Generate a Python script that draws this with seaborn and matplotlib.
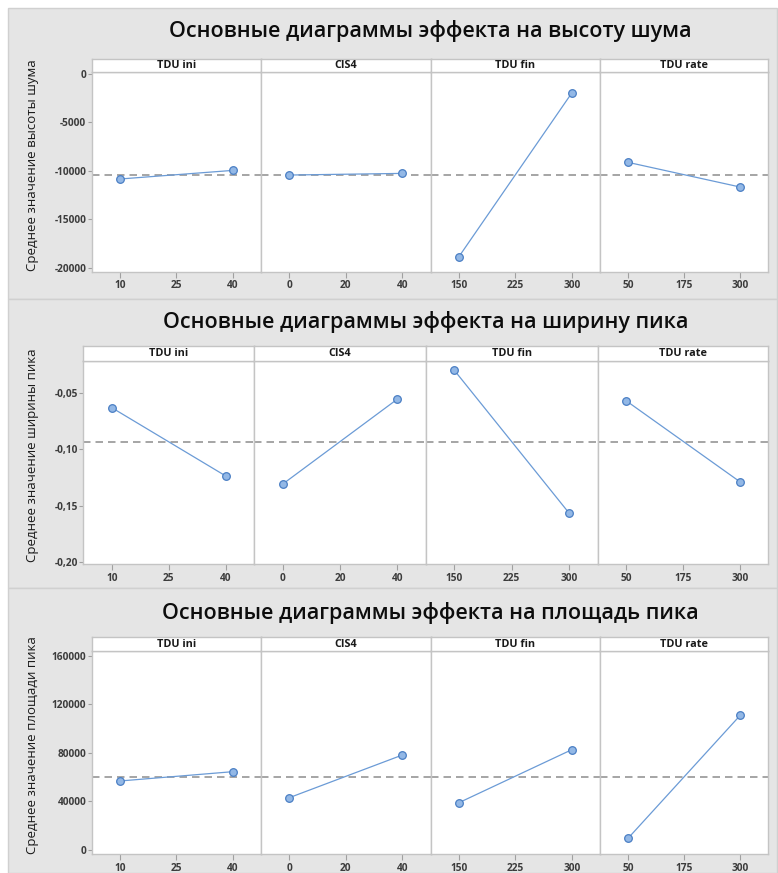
import matplotlib
matplotlib.use("Agg")
import matplotlib.pyplot as plt
import pandas as pd
import seaborn as sns
from matplotlib.patches import Rectangle

# Factors and their two levels
factors = ["TDU ini", "CIS4", "TDU fin", "TDU rate"]
levels = [[10, 40], [0, 40], [150, 300], [50, 300]]
x_ticks = [[10, 25, 40], [0, 20, 40], [150, 225, 300], [50, 175, 300]]

# Response 1: noise height
noise_title = "Основные диаграммы эффекта на высоту шума"
noise_ylabel = "Среднее значение высоты шума"
noise_means = [[-10840, -9950], [-10430, -10260], [-18860, -1960], [-9120, -11670]]
noise_grand = -10390
noise_yticks = [0, -5000, -10000, -15000, -20000]
noise_yticklabels = ["0", "-5000", "-10000", "-15000", "-20000"]

# Response 2: peak width
width_title = "Основные диаграммы эффекта на ширину пика"
width_ylabel = "Среднее значение ширины пика"
width_means = [[-0.0628, -0.1237], [-0.1308, -0.0553], [-0.0295, -0.1567], [-0.0566, -0.1288]]
width_grand = -0.0930
width_yticks = [-0.05, -0.10, -0.15, -0.20]
width_yticklabels = ["-0,05", "-0,10", "-0,15", "-0,20"]

# Response 3: peak area
area_title = "Основные диаграммы эффекта на площадь пика"
area_ylabel = "Среднее значение площади пика"
area_means = [[56900, 64580], [43130, 78350], [39010, 82720], [9650, 111090]]
area_grand = 60600
area_yticks = [0, 40000, 80000, 120000, 160000]
area_yticklabels = ["0", "40000", "80000", "120000", "160000"]

sns.set_theme(style="white")
plt.rcParams["font.family"] = ["Open Sans", "DejaVu Sans"]

W, H = 778, 873
fig = plt.figure(figsize=(W / 100, H / 100), dpi=100)
fig.patch.set_facecolor("white")

BG = "#e5e5e5"
FRAME = "#c4c4c4"
LINE = "#6b9bd6"
MFACE = "#93b8e6"
MEDGE = "#4a7fc4"
TXT = "#1a1a1a"
TICK = "#3c3c3c"


def rect(x0, y0, x1, y1):
    return [x0 / W, 1 - y1 / H, (x1 - x0) / W, (y1 - y0) / H]


for top, bot in [(8, 299), (299, 588), (588, 873)]:
    fig.add_artist(Rectangle((8 / W, 1 - bot / H), (W - 9) / W, (bot - top) / H,
                             transform=fig.transFigure, facecolor=BG,
                             edgecolor="#d0d0d0", lw=1.0, zorder=0))


def draw_block(title, ylabel, means, grand, yticks, yticklabels, ylim,
               cols, strip_top, strip_bot, bottom, title_y):
    for i, fac in enumerate(factors):
        x0, x1 = cols[i], cols[i + 1]
        ax = fig.add_axes(rect(x0, strip_bot, x1, bottom))
        ax.set_facecolor("white")
        df = pd.DataFrame({"level": levels[i], "mean": means[i]})
        sns.lineplot(data=df, x="level", y="mean", ax=ax, color=LINE, lw=0.9,
                     marker="o", markersize=5.5, markerfacecolor=MFACE,
                     markeredgecolor=MEDGE, markeredgewidth=0.9, zorder=3)
        ax.axhline(grand, color="#969696", ls=(0, (4.5, 3)), lw=1.2, zorder=2)
        lo, hi = levels[i]
        pad = (hi - lo) * 0.25
        ax.set_xlim(lo - pad, hi + pad)
        ax.set_ylim(*ylim)
        ax.set_xticks(x_ticks[i])
        ax.set_xticklabels([str(v) for v in x_ticks[i]], fontsize=7.3,
                           fontweight="bold", color=TICK)
        ax.set_xlabel("")
        ax.set_ylabel("")
        ax.tick_params(axis="x", direction="out", length=4, width=0.8,
                       color="#a0a0a0", pad=2, bottom=True)
        ax.set_yticks(yticks)
        if i == 0:
            ax.set_yticklabels(yticklabels, fontsize=7.3, fontweight="bold",
                               color=TICK)
            ax.tick_params(axis="y", direction="out", length=3, width=0.8,
                           color="#a0a0a0", pad=1, left=True)
        else:
            ax.tick_params(axis="y", left=False, labelleft=False)
        for s in ax.spines.values():
            s.set_color(FRAME)
            s.set_linewidth(1.0)
        # Strip header with factor name
        sax = fig.add_axes(rect(x0, strip_top, x1, strip_bot))
        sax.set_facecolor("white")
        sax.set_xticks([])
        sax.set_yticks([])
        for s in sax.spines.values():
            s.set_color(FRAME)
            s.set_linewidth(1.0)
        sax.text(0.5, 0.45, fac, transform=sax.transAxes, ha="center",
                 va="center", fontsize=7.8, fontweight="bold", color=TXT)
    fig.text((cols[0] + cols[-1]) / 2 / W, 1 - title_y / H, title,
             ha="center", va="center", fontsize=15.5, fontweight="semibold",
             color="#0d0d0d")
    fig.text(33 / W, 1 - (strip_top + bottom) / 2 / H, ylabel, rotation=90,
             ha="center", va="center", fontsize=9.5, fontweight="medium",
             color=TXT)


draw_block(noise_title, noise_ylabel, noise_means, noise_grand,
           noise_yticks, noise_yticklabels, (-20410, 240),
           [91.7, 261, 430.7, 600, 768.3], 58.7, 71.7, 271.7, 31)
draw_block(width_title, width_ylabel, width_means, width_grand,
           width_yticks, width_yticklabels, (-0.2024, -0.0209),
           [83.3, 254.3, 425.7, 597.7, 768.3], 345.7, 360.7, 564.3, 322)
draw_block(area_title, area_ylabel, area_means, area_grand,
           area_yticks, area_yticklabels, (-3550, 164100),
           [91.7, 261, 430.7, 600, 768.3], 636.7, 651, 854.3, 613)

fig.savefig("out.png", dpi=100)
